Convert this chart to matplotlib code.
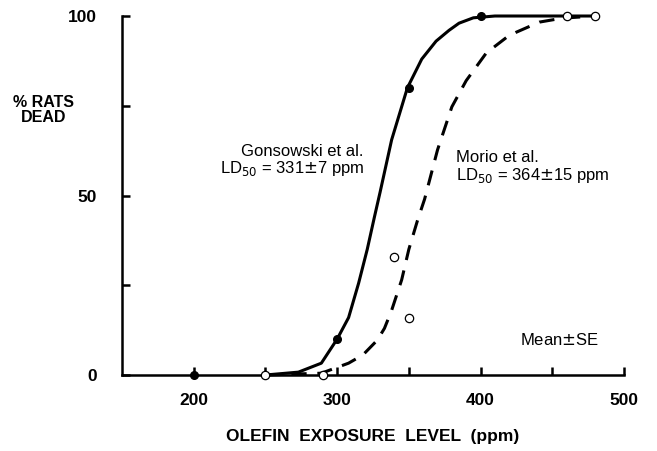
import matplotlib.pyplot as plt

plt.rcParams['font.family'] = ['Liberation Sans', 'DejaVu Sans']

# observed points
gons_x = [200, 300, 350, 400]
gons_y = [0, 10, 80, 100]
morio_x = [250, 290, 340, 350, 460, 480]
morio_y = [0, 0, 33, 16, 100, 100]

# fitted curves
gons_cx = [250, 273, 289, 300, 308, 315, 321, 326, 330, 338, 349, 359, 369, 378, 385, 395, 410, 480]
gons_cy = [0, 0.8, 3.3, 10, 16, 25.6, 35, 44, 51, 65.5, 80, 88, 93, 96, 98, 99.5, 100, 100]
morio_cx = [250, 289, 308, 318, 328, 333, 338, 345, 350, 356, 361, 370, 380, 390, 404, 418, 425, 441, 457, 480]
morio_cy = [0, 0.5, 3.3, 5.6, 9.7, 13, 18, 26.5, 35, 43, 49, 62.7, 74.7, 82, 89.7, 94, 95.5, 98.3, 99.4, 100]

fig = plt.figure(figsize=(6.57, 4.51), dpi=100)
ax = fig.add_axes([0.1857, 0.1685, 0.764, 0.796])

ax.plot(gons_cx, gons_cy, color='black', lw=2.2, clip_on=False)
ax.plot(morio_cx, morio_cy, color='black', lw=2.2, dashes=(5, 3.5), clip_on=False)
ax.plot(gons_x, gons_y, 'o', color='black', ms=5.5, clip_on=False, zorder=5)
ax.plot(morio_x, morio_y, 'o', mfc='white', mec='black', mew=0.9, ms=6, clip_on=False, zorder=5)

ax.set_xlim(150, 500)
ax.set_ylim(0, 100)
for s in ['top', 'right']:
    ax.spines[s].set_visible(False)
for s in ['left', 'bottom']:
    ax.spines[s].set_linewidth(1.8)

ax.set_xticks([200, 250, 300, 350, 400, 450, 500])
ax.set_xticklabels(['200', '', '300', '', '400', '', '500'])
ax.set_yticks([0, 25, 50, 75, 100])
ax.set_yticklabels(['0', '', '50', '', '100'])
ax.tick_params(direction='in', length=6, width=1.8, labelsize=12.5, pad=13)
ax.tick_params(axis='y', pad=18)
for lab in ax.get_xticklabels() + ax.get_yticklabels():
    lab.set_fontweight('bold')

ax.set_xlabel('OLEFIN  EXPOSURE  LEVEL  (ppm)', fontsize=12.5, fontweight='bold', labelpad=15)
fig.text(0.066, 0.755, '% RATS\nDEAD', ha='center', va='center', fontsize=11.5,
         fontweight='bold', linespacing=1.0)

ax.text(318, 61.0, 'Gonsowski et al.', fontsize=12, ha='right', va='baseline')
ax.text(319, 56.3, r'LD$_{50}$ = 331$\pm$7 ppm', fontsize=12, ha='right', va='baseline')
ax.text(383, 59.3, 'Morio et al.', fontsize=12, ha='left', va='baseline')
ax.text(383, 54.3, r'LD$_{50}$ = 364$\pm$15 ppm', fontsize=12, ha='left', va='baseline')
ax.text(482.5, 8.4, 'Mean$\\pm$SE', fontsize=12, ha='right', va='baseline')

fig.savefig('out.png', dpi=100)
